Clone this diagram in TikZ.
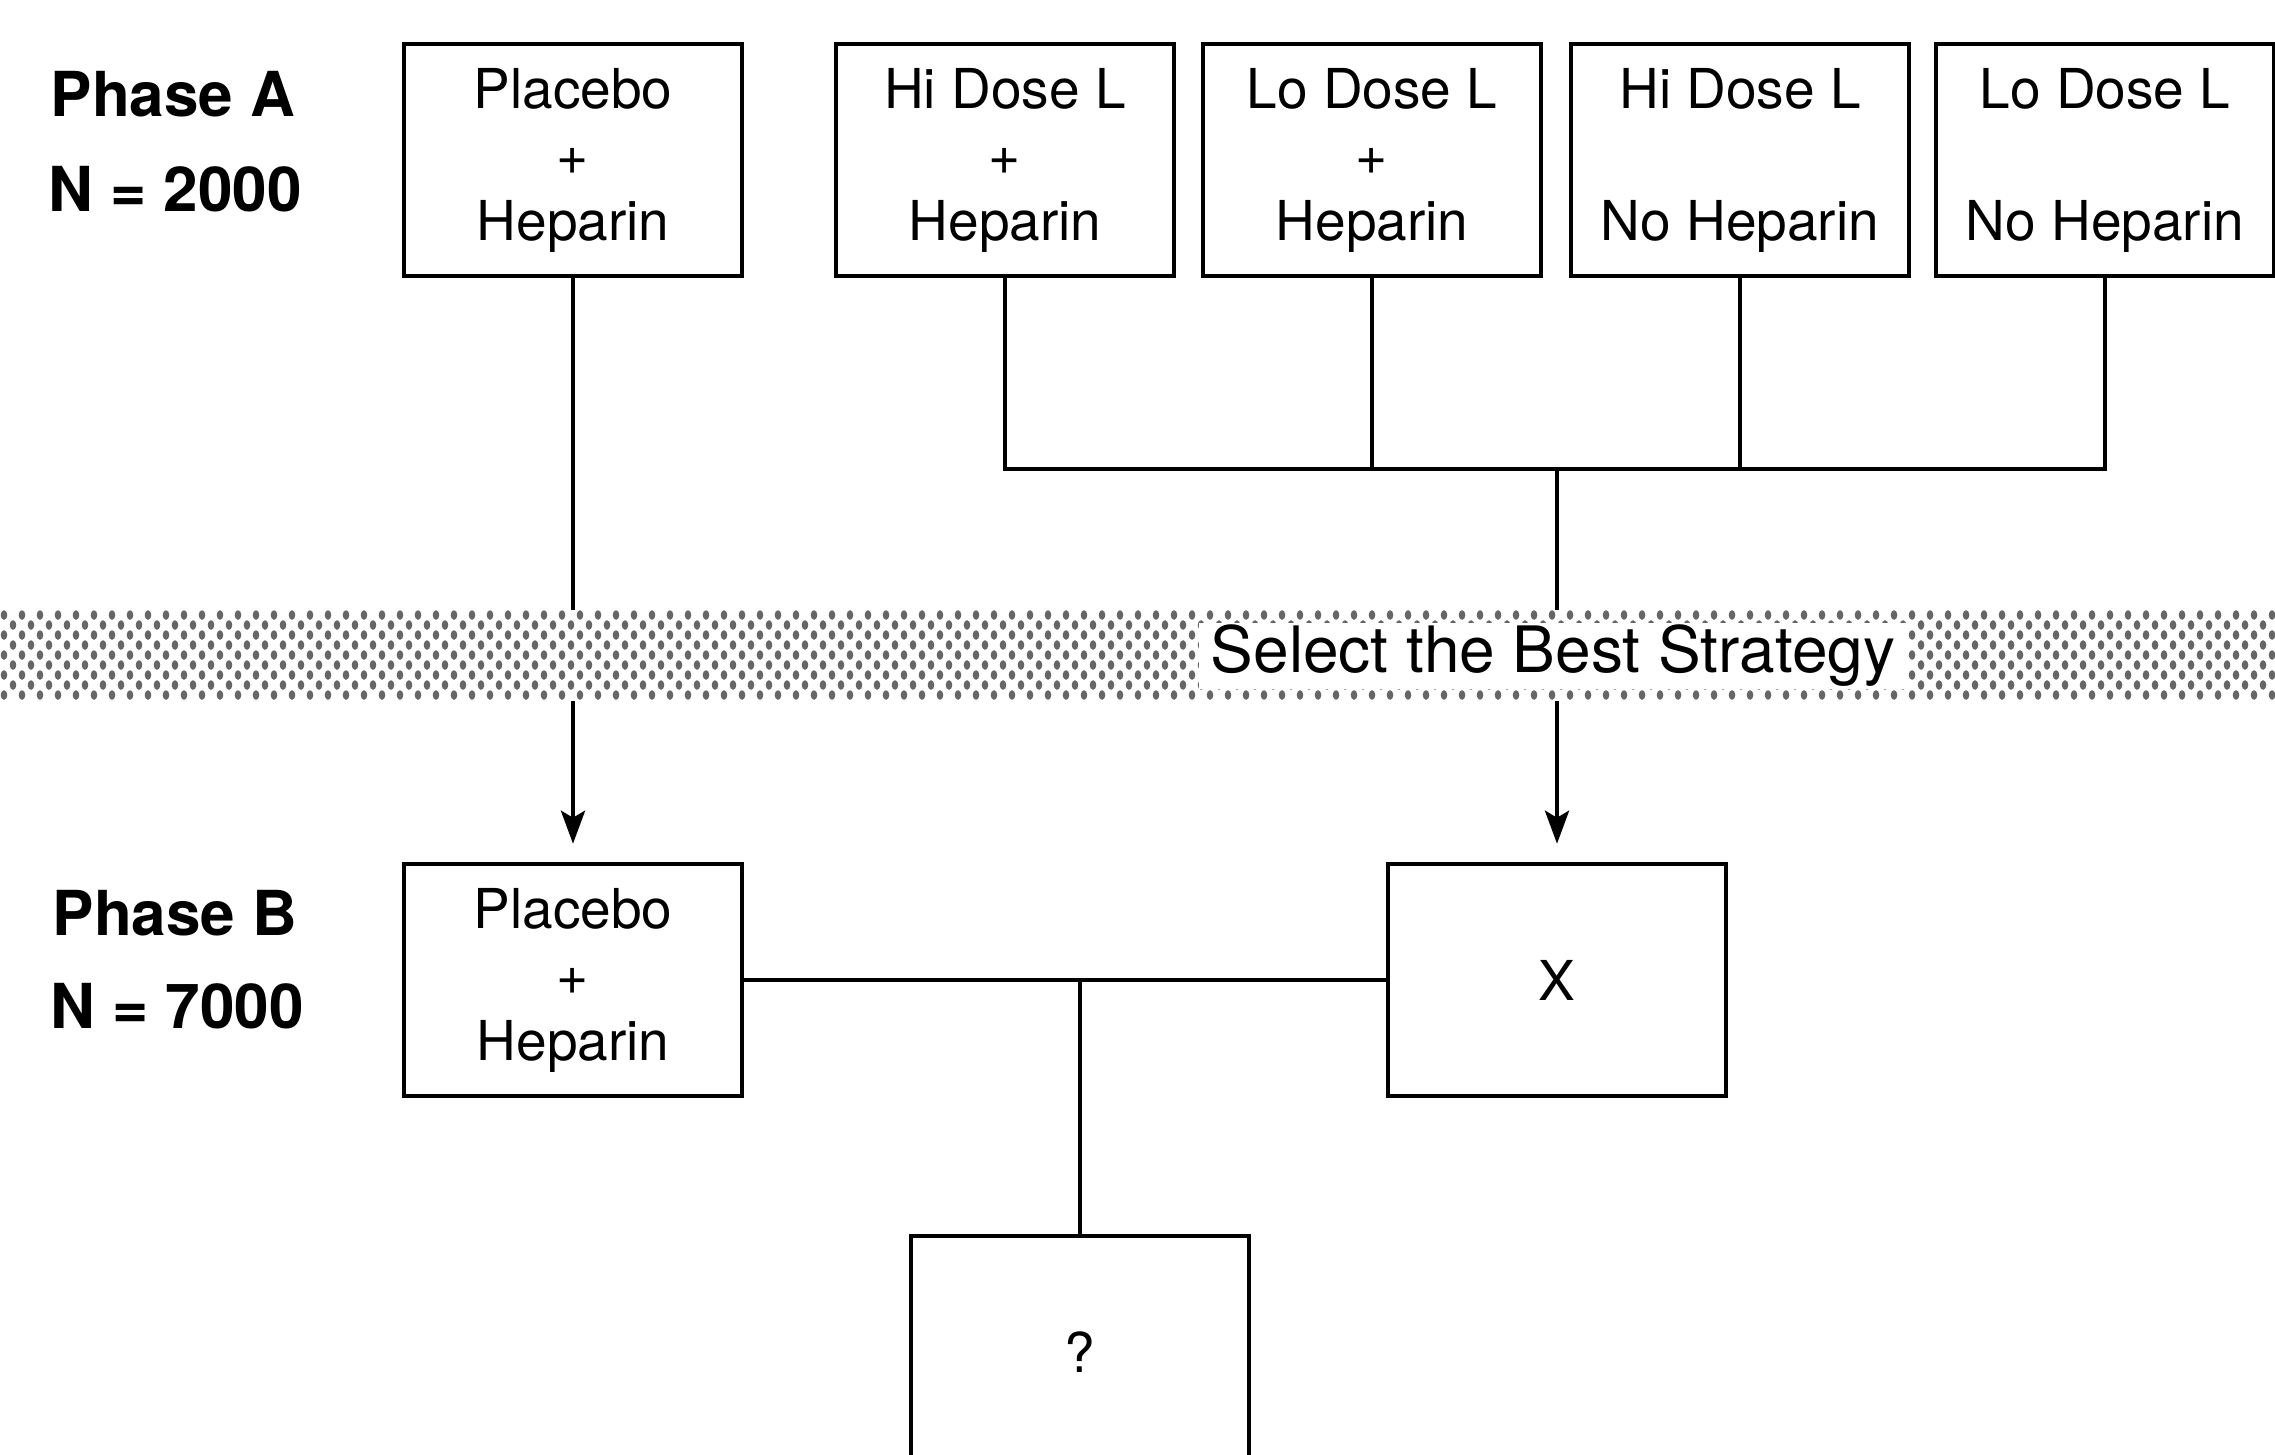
\documentclass[tikz,border=0pt]{standalone}
\usepackage{fontspec}
\setmainfont{TeX Gyre Heros}
\usetikzlibrary{arrows.meta}
\begin{document}
\begin{tikzpicture}[x=1bp,y=-1bp,
  box/.style={draw, line width=4.5bp, minimum width=338bp, minimum height=232bp,
    inner sep=0pt, align=center, font=\fontsize{55bp}{66bp}\selectfont},
  lbl/.style={font=\bfseries\fontsize{62bp}{74bp}\selectfont, inner sep=0pt, anchor=base},
  conn/.style={line width=4.5bp},
  arr/.style={conn, -{Stealth[length=33bp,width=24bp,inset=7bp]}, shorten >=18bp},
  dotc/.style={fill=black!60}]
\fill[white] (0,0) rectangle (2275,1455);
\clip (0,0) rectangle (2275,1455);

% phase labels
\node[lbl] (pa) at (173,117) {Phase A};
\node[lbl] (na) at (175,212) {N = 2000};
\node[lbl] (pb) at (175,935) {Phase B};
\node[lbl] (nb) at (177,1028) {N = 7000};

% phase A boxes
\node[box] (a1) at (573,160) {Placebo\\+\\Heparin};
\node[box] (a2) at (1005,160) {Hi Dose L\\+\\Heparin};
\node[box] (a3) at (1372,160) {Lo Dose L\\+\\Heparin};
\node[box] (a4) at (1740,160) {Hi Dose L\\\phantom{+}\\No Heparin};
\node[box] (a5) at (2105,160) {Lo Dose L\\\phantom{+}\\No Heparin};

% phase B boxes
\node[box] (b1) at (573,980) {Placebo\\+\\Heparin};
\node[box] (x) at (1557,980) {X};
\node[box] (q) at (1080,1352) {?};

% connectors
\coordinate (bus) at (1557,469);
\draw[conn] (a2.south) -- (a2.south |- bus) -- (a5.south |- bus) -- (a5.south);
\draw[conn] (a3.south) -- (a3.south |- bus);
\draw[conn] (a4.south) -- (a4.south |- bus);
\draw[arr] (bus) -- (x.north);
\draw[arr] (a1.south) -- (b1.north);
\draw[conn] (b1.east) -- (x.west);
\draw[conn] (q.north |- b1.east) -- (q.north);

% dotted band
\fill[white] (0,610) rectangle (2275,701);
\foreach \i in {0,...,8} {
  \foreach \j in {0,...,126} {
    \fill[dotc] ({4+18*\j+mod(\i,2)*9},{615+10*\i}) ellipse [x radius=3.3bp, y radius=4.8bp];
  }
}
\node[fill=white, inner sep=0pt, minimum width=709bp, minimum height=66bp,
  font=\fontsize{64bp}{77bp}\selectfont] (sel) at (1553,656) {Select the Best Strategy};
\end{tikzpicture}
\end{document}
